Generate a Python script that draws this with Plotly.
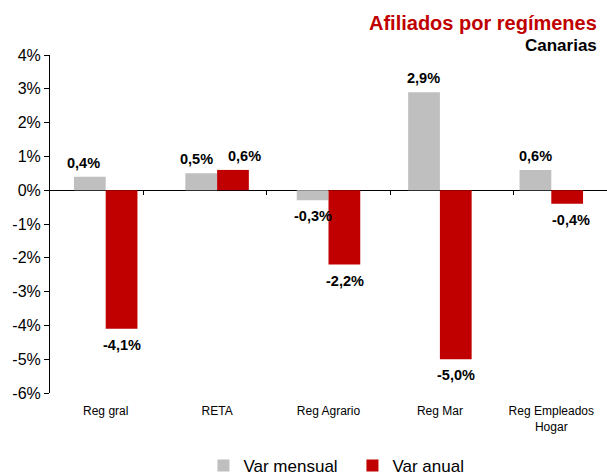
import plotly.graph_objects as go

categories = ["Reg gral", "RETA", "Reg Agrario", "Reg Mar", "Reg Empleados<br>Hogar"]
var_mensual = [0.4, 0.5, -0.3, 2.9, 0.6]
var_anual = [-4.1, 0.6, -2.2, -5.0, -0.4]
y_ticks = [4, 3, 2, 1, 0, -1, -2, -3, -4, -5, -6]
y_tick_labels = [f"{v}%" for v in y_ticks]

def fmt(v):
    return f"{v:.1f}".replace(".", ",") + "%"

label_font = dict(family="Liberation Sans, Arial", size=14.5, color="black", weight="bold")

# horizontal nudges (px) of a few data labels, as placed in the original
mensual_label_nudge = [-6, -5, 0, 0, 0]
anual_label_nudge = [0, 11, 0, 0, 4]

fig = go.Figure()
fig.add_trace(go.Bar(x=categories, y=var_mensual, name="Var mensual",
                     marker_color="#BFBFBF", marker_line_width=0))
fig.add_trace(go.Bar(x=categories, y=var_anual, name="Var anual",
                     marker_color="#C00000", marker_line_width=0))
# invisible trace for the boundary ticks along the zero line
fig.add_trace(go.Scatter(x=categories, y=[None] * len(categories), xaxis="x2",
                         showlegend=False, hoverinfo="skip", mode="markers"))

annotations = []
for series, dx, nudges in ((var_mensual, -16, mensual_label_nudge),
                           (var_anual, 16, anual_label_nudge)):
    for cat, v, nd in zip(categories, series, nudges):
        annotations.append(dict(
            x=cat, y=v, xref="x", yref="y", text=fmt(v), showarrow=False,
            xshift=dx + nd, yshift=14 if v >= 0 else -16, yanchor="middle",
            font=label_font,
        ))

annotations += [
    dict(text="<b>Afiliados por regímenes</b>", xref="paper", yref="paper",
         x=1, xanchor="right", xshift=-8, y=1, yshift=32, yanchor="middle",
         showarrow=False, font=dict(size=20, color="#C00000")),
    dict(text="<b>Canarias</b>", xref="paper", yref="paper",
         x=1, xanchor="right", xshift=-8, y=1, yshift=10, yanchor="middle",
         showarrow=False, font=dict(size=17, color="black")),
]

fig.update_layout(
    width=607, height=475,
    margin=dict(l=50, r=0, t=55, b=82, autoexpand=False),
    paper_bgcolor="white", plot_bgcolor="white",
    barmode="group", bargap=0.43, bargroupgap=0,
    font=dict(family="Liberation Sans, Arial", color="black"),
    xaxis=dict(showline=False, ticks="", showgrid=False, automargin=False,
               tickfont=dict(size=12), type="category", ticklabelstandoff=9),
    xaxis2=dict(overlaying="x", anchor="free", position=0.6, type="category",
                tickson="boundaries", ticks="outside", ticklen=4, tickcolor="black",
                showticklabels=False, showline=False, showgrid=False, side="bottom"),
    yaxis=dict(range=[-6, 4], tickvals=y_ticks, ticktext=y_tick_labels,
               showline=True, linecolor="black", linewidth=1, automargin=False,
               ticks="outside", ticklen=5, tickcolor="black",
               showgrid=False, zeroline=True, zerolinecolor="black", zerolinewidth=1,
               tickfont=dict(size=16)),
    legend=dict(orientation="h", x=0.543, xanchor="center", y=-0.216, yanchor="middle",
                font=dict(size=17), entrywidth=104, entrywidthmode="pixels"),
    annotations=annotations,
)

fig.write_html(
    "out.html",
    config={"displayModeBar": False},
    post_script="document.body.style.margin='0';document.body.style.overflow='hidden';",
)
